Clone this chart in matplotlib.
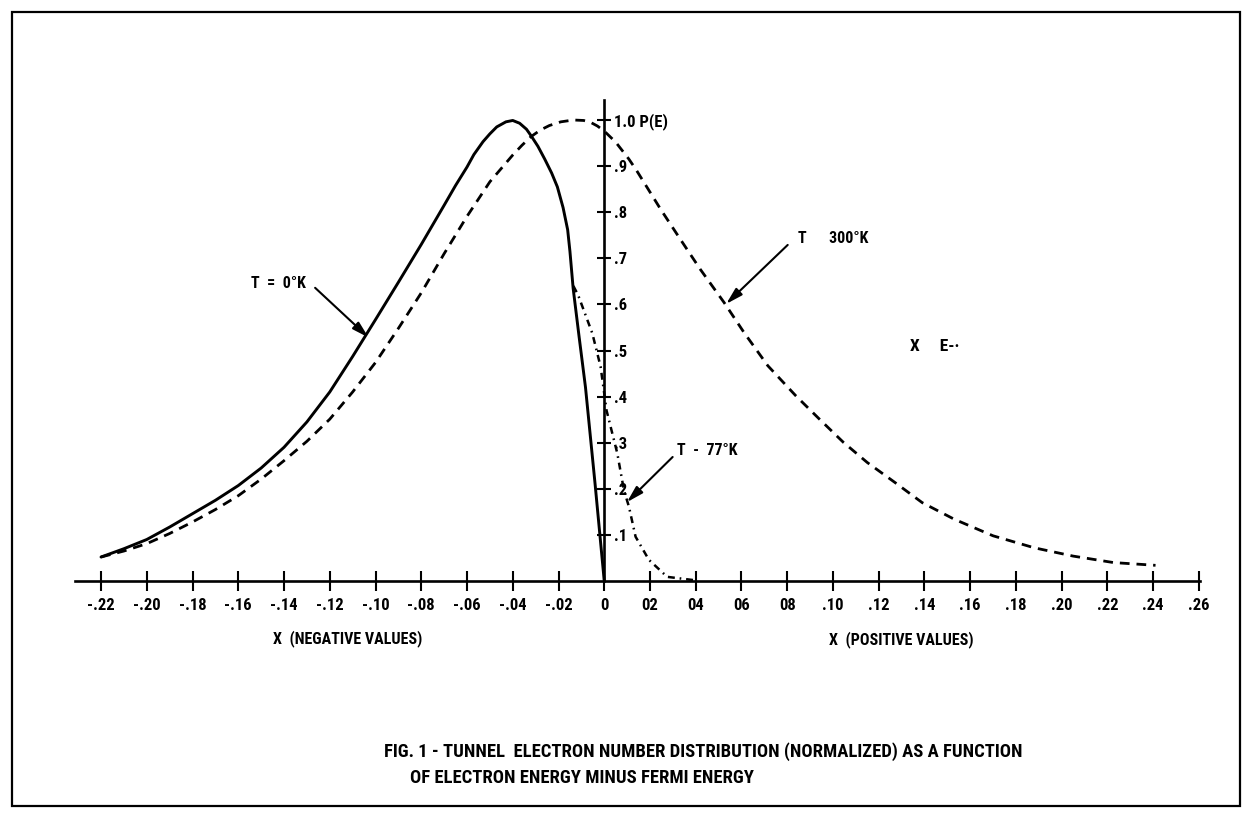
import matplotlib
matplotlib.use('Agg')
import matplotlib.pyplot as plt
from matplotlib.patches import Rectangle

plt.rcParams['font.family'] = ['Roboto Condensed', 'Liberation Sans Narrow',
                               'DejaVu Sans']
plt.rcParams['font.stretch'] = 'condensed'
plt.rcParams['font.weight'] = 'bold'
plt.rcParams['lines.scale_dashes'] = False

# ---- data ----
x_t0 = [-0.22, -0.21, -0.20, -0.19, -0.18, -0.17, -0.16, -0.15, -0.14, -0.13,
        -0.12, -0.11, -0.10, -0.09, -0.08, -0.07, -0.065, -0.06, -0.057,
        -0.053, -0.05, -0.047, -0.043, -0.04, -0.037, -0.034, -0.032, -0.029,
        -0.026, -0.023, -0.0205, -0.018, -0.016, -0.015, -0.0136, -0.011,
        -0.0082, -0.004, 0.0]
p_t0 = [0.052, 0.070, 0.090, 0.117, 0.146, 0.175, 0.207, 0.245, 0.290, 0.345,
        0.410, 0.487, 0.567, 0.648, 0.730, 0.815, 0.858, 0.898, 0.925,
        0.953, 0.970, 0.985, 0.996, 0.999, 0.993, 0.980, 0.966, 0.943,
        0.915, 0.885, 0.855, 0.810, 0.762, 0.715, 0.635, 0.53,
        0.42, 0.21, 0.0]

x_t300 = [-0.22, -0.21, -0.20, -0.19, -0.18, -0.17, -0.16, -0.15, -0.14,
          -0.13, -0.12, -0.11, -0.10, -0.09, -0.08, -0.07, -0.06, -0.05,
          -0.04, -0.036, -0.032, -0.028, -0.024, -0.019, -0.0135, -0.009,
          -0.006, -0.003, 0.0, 0.005, 0.0108, 0.0142, 0.0247, 0.0333, 0.042,
          0.0524, 0.0611, 0.0715, 0.0837, 0.0941, 0.1045, 0.115, 0.127, 0.139,
          0.153, 0.170, 0.188, 0.205, 0.2226, 0.241]
p_t300 = [0.052, 0.065, 0.081, 0.103, 0.128, 0.155, 0.185, 0.221, 0.261,
          0.303, 0.351, 0.410, 0.474, 0.548, 0.625, 0.710, 0.791, 0.866,
          0.924, 0.945, 0.964, 0.978, 0.988, 0.996, 1.0, 0.999,
          0.995, 0.987, 0.976, 0.952, 0.915, 0.890, 0.806, 0.741, 0.676,
          0.604, 0.539, 0.467, 0.402, 0.351, 0.301, 0.257, 0.214, 0.170,
          0.134, 0.098, 0.072, 0.054, 0.040, 0.034]

x_t77 = [-0.0135, -0.0114, -0.0052, -0.0016, 0.0010, 0.0057, 0.0086, 0.0108,
         0.0137, 0.0195, 0.0275, 0.039]
p_t77 = [0.640, 0.620, 0.537, 0.465, 0.370, 0.277, 0.197, 0.161,
         0.096, 0.046, 0.009, 0.002]

xtick_vals = [-0.22, -0.20, -0.18, -0.16, -0.14, -0.12, -0.10, -0.08, -0.06,
              -0.04, -0.02, 0.0, 0.02, 0.04, 0.06, 0.08, 0.10, 0.12, 0.14,
              0.16, 0.18, 0.20, 0.22, 0.24, 0.26]
xtick_labels = ['-.22', '-.20', '-.18', '-.16', '-.14', '-.12', '-.10', '-.08',
                '-.06', '-.04', '-.02', '0', '02', '04', '06', '08', '.10',
                '.12', '.14', '.16', '.18', '.20', '.22', '.24', '.26']
ytick_vals = [0.1, 0.2, 0.3, 0.4, 0.5, 0.6, 0.7, 0.8, 0.9, 1.0]
ytick_labels = ['.1', '.2', '.3', '.4', '.5', '.6', '.7', '.8', '.9', '1.0 P(E)']

caption_1 = 'FIG. 1 - TUNNEL  ELECTRON NUMBER DISTRIBUTION (NORMALIZED) AS A FUNCTION'
caption_2 = 'OF ELECTRON ENERGY MINUS FERMI ENERGY'

W, H = 1249, 815
fig = plt.figure(figsize=(W / 100, H / 100), dpi=100)
fig.patch.set_facecolor('white')

# page frame
fig.patches.append(Rectangle((12 / W, 9 / H), (1240 - 12) / W, (803 - 9) / H,
                             transform=fig.transFigure, fill=False,
                             edgecolor='black', linewidth=1.6))

ax = fig.add_axes([75 / W, 1 - 581 / H, (1200 - 75) / W, (581 - 100) / H])
ax.set_xlim(-0.23137, 0.26044)
ax.set_ylim(0, 1.0434)
ax.patch.set_alpha(0)

for s in ['top', 'left']:
    ax.spines[s].set_visible(False)
ax.spines['right'].set_position(('data', 0))
ax.spines['right'].set_linewidth(1.9)
ax.spines['bottom'].set_linewidth(1.9)
ax.yaxis.tick_right()

ax.set_xticks(xtick_vals, xtick_labels)
ax.set_yticks(ytick_vals, ytick_labels)
ax.tick_params(axis='x', direction='inout', length=14, width=1.5, pad=5,
               labelsize=12)
ax.tick_params(axis='y', direction='inout', length=10, width=1.5, pad=2,
               labelsize=12)

ax.plot(x_t0, p_t0, color='black', lw=2.1, solid_capstyle='round',
        solid_joinstyle='round')
ax.plot(x_t300, p_t300, color='black', lw=2.0, ls=(0, (7, 5)))
ax.plot(x_t77, p_t77, color='black', lw=1.8, ls=(0, (5, 3.5, 1.2, 3.5)))

fs = 11.5
arrow = dict(arrowstyle='-|>,head_length=1.0,head_width=0.28', color='black',
             lw=1.5, shrinkA=0, shrinkB=0)
ax.text(-0.1545, 0.645, 'T  =  0°K', fontsize=fs, ha='left', va='center')
ax.annotate('', xy=(-0.103, 0.528), xytext=(-0.1264, 0.636), arrowprops=arrow)
ax.text(0.0846, 0.742, 'T      300°K', fontsize=fs, ha='left', va='center')
ax.annotate('', xy=(0.0533, 0.601), xytext=(0.0802, 0.729), arrowprops=arrow)
ax.text(0.0316, 0.283, 'T  -  77°K', fontsize=fs, ha='left', va='center')
ax.annotate('', xy=(0.0099, 0.171), xytext=(0.0299, 0.269), arrowprops=arrow)
ax.text(0.1335, 0.509, 'X     E-·', fontsize=fs + 1, ha='left', va='center')

fig.text(348 / W, 1 - 639 / H, 'X  (NEGATIVE VALUES)', fontsize=fs,
         ha='center', va='center')
fig.text(901 / W, 1 - 640 / H, 'X  (POSITIVE VALUES)', fontsize=fs,
         ha='center', va='center')

cap_fs = 16
t1 = fig.text(384 / W, 1 - 752 / H, caption_1, fontsize=cap_fs, ha='left',
              va='center', fontweight='heavy')
t2 = fig.text(410 / W, 1 - 778 / H, caption_2, fontsize=cap_fs, ha='left',
              va='center', fontweight='heavy')
# fit caption line width to the reference (~641 px)
fig.canvas.draw()
w1 = t1.get_window_extent(renderer=fig.canvas.get_renderer()).width
cap_fs = min(cap_fs, cap_fs * 641.0 / w1)
t1.set_fontsize(cap_fs)
t2.set_fontsize(cap_fs)

fig.savefig('out.png', dpi=100, facecolor='white')
